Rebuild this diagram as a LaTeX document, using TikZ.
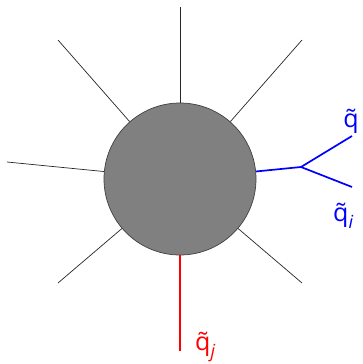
\documentclass[tikz,border=0pt]{standalone}
\usepackage{fontspec}
\setmainfont{Open Sans}
\newcommand{\mysub}[1]{\raisebox{-0.28em}{\fontsize{18}{20}\selectfont\itshape #1}}
\begin{document}
\begin{tikzpicture}[x=1pt,y=-1pt,
  leg/.style={draw=black!70!gray,line width=0.7pt},
  bleg/.style={draw=blue,line width=1.7pt},
  rleg/.style={draw=red,line width=1.7pt},
  lbl/.style={font=\fontsize{25}{28}\selectfont,inner sep=0pt}]
\useasboundingbox (0,0) rectangle (363,364);
\node[circle,draw=black!75,line width=0.7pt,fill=gray,minimum size=152pt,inner sep=0pt] (blob) at (180,179) {};
\coordinate (e1) at (180,7);
\coordinate (e2) at (58,40);
\coordinate (e3) at (302,40);
\coordinate (e4) at (7,162);
\coordinate (e5) at (58,283);
\coordinate (e6) at (302,283);
\coordinate (v) at (301,167);
\coordinate (b1) at (352,136);
\coordinate (b2) at (352,187);
\coordinate (r) at (180,351);
\foreach \e in {e1,e2,e3,e4,e5,e6} \draw[leg] (blob) -- (\e);
\draw[bleg] (blob) -- (v);
\draw[bleg] (v) -- (b1);
\draw[bleg] (v) -- (b2);
\draw[rleg] (blob) -- (r);
\node[lbl,text=blue] (lq) at (351,121) {\~{q}};
\node[lbl,text=blue,anchor=west] (lqi) at (333,216) {\~{q}\mysub{i}};
\node[lbl,text=red,anchor=west] (lqj) at (195,347) {\~{q}\mysub{j}};
\end{tikzpicture}
\end{document}
